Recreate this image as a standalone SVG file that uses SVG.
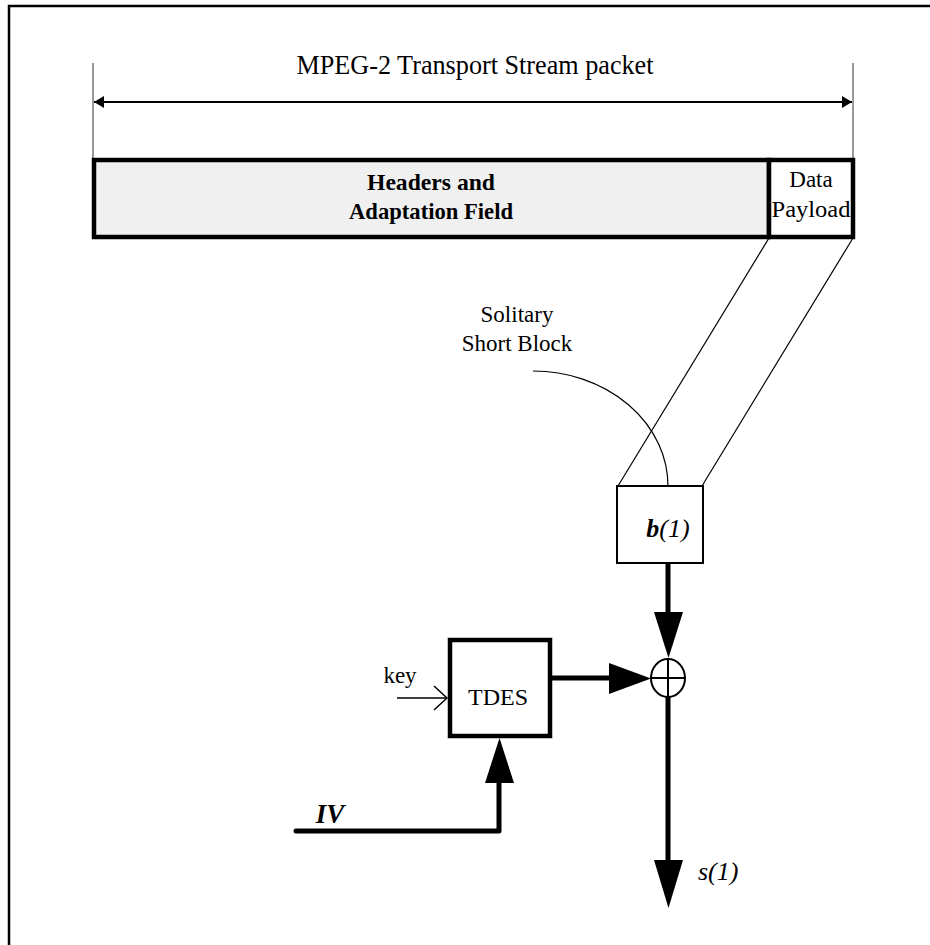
<svg xmlns="http://www.w3.org/2000/svg" width="930" height="945" viewBox="0 0 930 945">
<style>
text{font-family:"Liberation Serif","Times New Roman",serif;fill:#000}
.thin{stroke:#000;stroke-width:1.2;fill:none}
.thick{stroke:#000;stroke-width:5;fill:none}
.head{fill:#000;stroke:none}
</style>
<defs>
<marker id="dimArrow" viewBox="0 0 10 12" refX="10" refY="6" markerWidth="10" markerHeight="12" markerUnits="userSpaceOnUse" orient="auto-start-reverse">
<path d="M0,0 L10,6 L0,12 Z" fill="#000"/>
</marker>
</defs>
<rect x="9" y="6" width="940" height="960" fill="#fff" stroke="#000" stroke-width="2.5"/>

<g id="dimension">
<line x1="93" y1="63" x2="93" y2="158" stroke="#555" stroke-width="1.2"/>
<line x1="853" y1="63" x2="853" y2="158" stroke="#555" stroke-width="1.2"/>
<line x1="94" y1="102" x2="852" y2="102" stroke="#000" stroke-width="2" marker-start="url(#dimArrow)" marker-end="url(#dimArrow)"/>
<text x="475" y="74" font-size="27" text-anchor="middle" textLength="357" lengthAdjust="spacingAndGlyphs">MPEG-2 Transport Stream packet</text>
</g>

<g id="headers">
<rect x="94" y="160" width="675" height="77" fill="#f0f0f0" stroke="#000" stroke-width="4.5"/>
<text x="431" y="190" font-size="24" font-weight="bold" text-anchor="middle" textLength="128" lengthAdjust="spacingAndGlyphs">Headers and</text>
<text x="431" y="219" font-size="24" font-weight="bold" text-anchor="middle" textLength="164" lengthAdjust="spacingAndGlyphs">Adaptation Field</text>
</g>

<g id="payload">
<rect x="769" y="160" width="84" height="77" fill="#fff" stroke="#000" stroke-width="4.5"/>
<text x="811" y="187" font-size="23" text-anchor="middle">Data</text>
<text x="811" y="217" font-size="23" text-anchor="middle" textLength="79" lengthAdjust="spacingAndGlyphs">Payload</text>
</g>

<g id="solitary-label">
<text x="517" y="322" font-size="23" text-anchor="middle">Solitary</text>
<text x="517" y="351" font-size="23" text-anchor="middle">Short Block</text>
</g>

<g id="b1">
<rect x="617" y="486" width="86" height="77" fill="#fff" stroke="#000" stroke-width="2"/>
<text x="668" y="537" font-size="26" text-anchor="middle"><tspan font-weight="bold" font-style="italic">b</tspan><tspan font-style="italic">(1)</tspan></text>
</g>

<g id="tdes">
<rect x="450" y="640" width="100" height="96" fill="#fff" stroke="#000" stroke-width="4.5"/>
<text x="498" y="705" font-size="24" text-anchor="middle">TDES</text>
</g>

<g id="xor">
<ellipse cx="668" cy="678" rx="17" ry="19" fill="#fff" stroke="#000" stroke-width="2"/>
<line x1="651" y1="678" x2="685" y2="678" stroke="#000" stroke-width="2"/>
<line x1="668" y1="659" x2="668" y2="697" stroke="#000" stroke-width="2"/>
</g>

<g id="labels">
<text x="400" y="683" font-size="23" text-anchor="middle">key</text>
<text x="330" y="823" font-size="27" font-weight="bold" font-style="italic" text-anchor="middle">IV</text>
<text x="698" y="880" font-size="26" font-style="italic">s(1)</text>
</g>

<g id="connectors">
<line class="thin" x1="769" y1="238" x2="618" y2="486"/>
<line class="thin" x1="853" y1="238" x2="702" y2="486"/>
<path class="thin" d="M533,371 A135,115 0 0 1 668,486"/>
<line class="thick" x1="668" y1="563" x2="668" y2="620"/>
<path class="head" d="M654,612 L683,612 L668.5,658 Z"/>
<line class="thick" x1="552" y1="678" x2="615" y2="678"/>
<path class="head" d="M609,663 L609,694 L651,678.5 Z"/>
<line class="thick" x1="668" y1="697" x2="668" y2="865"/>
<path class="head" d="M654,860 L683,860 L668.5,908 Z"/>
<polyline class="thick" points="296,831 499,831 499,776" stroke-linejoin="round" stroke-linecap="round"/>
<path class="head" d="M485,783 L514,783 L499.5,738 Z"/>
<line x1="397" y1="698" x2="447" y2="698" stroke="#000" stroke-width="1.5"/>
<polyline points="434,686 447,698 434,710" fill="none" stroke="#000" stroke-width="1.5"/>
</g>
</svg>
